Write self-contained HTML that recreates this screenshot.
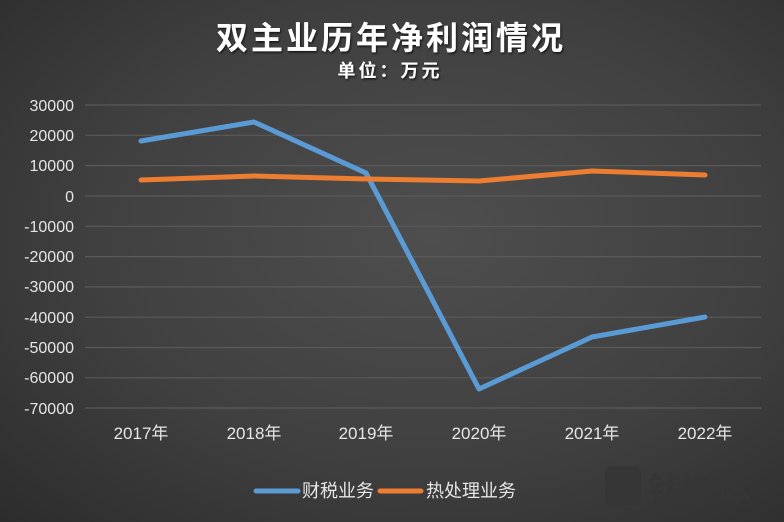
<!DOCTYPE html>
<html><head><meta charset="utf-8"><style>
html,body{margin:0;padding:0;width:784px;height:522px;overflow:hidden;}
body{background:radial-gradient(ellipse at 55% 45%,#4e4e4e 0%,#404040 55%,#2c2c2c 100%);}
svg{display:block}
text{font-family:"Liberation Sans","Noto Sans CJK SC",sans-serif;}
</style></head><body>
<svg width="784" height="522" viewBox="0 0 784 522">
<defs><filter id="sh"><feDropShadow dx="1" dy="1.5" stdDeviation="1" flood-color="#000" flood-opacity="0.7"/></filter></defs>
<text x="391" y="49" text-anchor="middle" font-size="32" font-weight="bold" fill="#fff" letter-spacing="3" filter="url(#sh)">双主业历年净利润情况</text>
<text x="390" y="77" text-anchor="middle" font-size="18" font-weight="bold" fill="#fff" letter-spacing="3" filter="url(#sh)">单位：万元</text>
<g stroke="#5a5a5a" stroke-width="1.2">
<line x1="85" x2="761" y1="105" y2="105"/><line x1="85" x2="761" y1="135.3" y2="135.3"/>
<line x1="85" x2="761" y1="165.6" y2="165.6"/><line x1="85" x2="761" y1="196" y2="196"/>
<line x1="85" x2="761" y1="226.3" y2="226.3"/><line x1="85" x2="761" y1="256.6" y2="256.6"/>
<line x1="85" x2="761" y1="286.9" y2="286.9"/><line x1="85" x2="761" y1="317.2" y2="317.2"/>
<line x1="85" x2="761" y1="347.5" y2="347.5"/><line x1="85" x2="761" y1="377.8" y2="377.8"/>
<line x1="85" x2="761" y1="408" y2="408"/>
</g>
<g fill="#e6e6e6" font-size="16" text-anchor="end">
<text x="74" y="111">30000</text><text x="74" y="141">20000</text><text x="74" y="171">10000</text>
<text x="74" y="202">0</text><text x="74" y="232">-10000</text><text x="74" y="262">-20000</text>
<text x="74" y="292">-30000</text><text x="74" y="323">-40000</text><text x="74" y="353">-50000</text>
<text x="74" y="383">-60000</text><text x="74" y="414">-70000</text>
</g>
<g fill="#e6e6e6" font-size="17" text-anchor="middle">
<text x="141" y="439">2017年</text><text x="254" y="439">2018年</text><text x="366" y="439">2019年</text>
<text x="479" y="439">2020年</text><text x="592" y="439">2021年</text><text x="705" y="439">2022年</text>
</g>
<polyline fill="none" stroke="#5b9bd5" stroke-width="5" stroke-linecap="round" stroke-linejoin="round" points="141,141 254,122 366,173 479,389 592,337 705,317"/>
<polyline fill="none" stroke="#ed7d31" stroke-width="5" stroke-linecap="round" stroke-linejoin="round" points="141,180 254,176 366,179 479,181 592,171 705,175"/>
<rect x="605" y="466" width="36" height="40" rx="7" fill="#363636"/>
<text x="648" y="502" font-size="34" font-weight="bold" fill="#363636">钛媒体</text>
<line x1="256" x2="298" y1="491" y2="491" stroke="#5b9bd5" stroke-width="5" stroke-linecap="round"/>
<text x="302" y="497" font-size="18" fill="#e6e6e6">财税业务</text>
<line x1="380" x2="421" y1="491" y2="491" stroke="#ed7d31" stroke-width="5" stroke-linecap="round"/>
<text x="426" y="497" font-size="18" fill="#e6e6e6">热处理业务</text>
</svg>
</body></html>
